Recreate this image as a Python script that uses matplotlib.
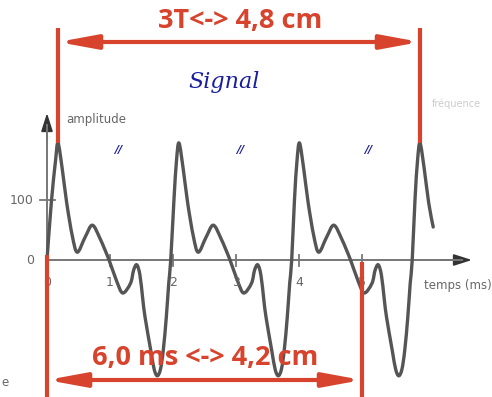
import matplotlib.pyplot as plt
from matplotlib.patches import FancyArrowPatch, PathPatch
from matplotlib.path import Path

# one period of the signal: offset from the big peak (ms), amplitude
shape_off = [-0.08, -0.04, 0.0, 0.068, 0.138, 0.227, 0.306, 0.43, 0.545, 0.67,
             0.81, 0.93, 1.027, 1.15, 1.20, 1.25, 1.30, 1.345, 1.381, 1.471,
             1.526, 1.576, 1.626, 1.671, 1.719, 1.757, 1.789]
shape_amp = [100, 165, 195, 151, 95, 40, 13, 38, 58, 35,
             0, -35, -55, -39, -17, -8, -25, -65, -95, -150,
             -182, -193, -182, -150, -95, -39, 0]
peak_times = [0.175, 2.095, 4.008, 5.921]
start_t, start_amp = [0.0, 0.068], [0, 95]
end_t, end_amp = 6.13, 55

x_ticks = [1, 2, 3, 4, 5]
x_labels = ["0", "1", "2", "3", "4", "5"]
y_ticks = [0, 100]

RED = "#d7432d"
GRAY = "#777777"
INK = "#1a1f9c"


# pixel helpers: t=0 at px 47, 63 px per ms ; amp 0 at px 260, 0.6 px per unit
def tx(px):
    return (px - 47) / 63.0


def ay(py):
    return (260 - py) / 0.6


def smooth_path(xs, ys):
    # catmull-rom through the read points, drawn as cubic bezier segments
    pts = list(zip(xs, ys))
    verts = [pts[0]]
    codes = [Path.MOVETO]
    n = len(pts)
    for i in range(n - 1):
        p0 = pts[max(i - 1, 0)]
        p1 = pts[i]
        p2 = pts[i + 1]
        p3 = pts[min(i + 2, n - 1)]
        c1 = (p1[0] + (p2[0] - p0[0]) / 6, p1[1] + (p2[1] - p0[1]) / 6)
        c2 = (p2[0] - (p3[0] - p1[0]) / 6, p2[1] - (p3[1] - p1[1]) / 6)
        verts += [c1, c2, p2]
        codes += [Path.CURVE4] * 3
    return Path(verts, codes)


fig = plt.figure(figsize=(4.92, 3.97), dpi=100)
ax = fig.add_axes([0, 0, 1, 1])
ax.set_xlim(tx(0), tx(492))
ax.set_ylim(ay(397), ay(0))
ax.axis("off")

# signal
ts, amps = list(start_t), list(start_amp)
for p in peak_times:
    for off, a in zip(shape_off, shape_amp):
        t = p + off
        if ts[-1] + 0.03 < t < end_t - 0.02:
            ts.append(t)
            amps.append(a)
ts.append(end_t)
amps.append(end_amp)
ax.add_patch(PathPatch(smooth_path(ts, amps), facecolor="none", edgecolor="#555555",
                       lw=2.4, capstyle="round", joinstyle="round", zorder=3))

# axes with arrows
arrow_kw = dict(arrowstyle="-|>,head_length=1.1,head_width=0.35",
                color="#333333", lw=1.3, shrinkA=0, shrinkB=0)
ax.annotate("", xy=(tx(472), 0), xytext=(tx(440), 0), arrowprops=arrow_kw, zorder=2)
ax.annotate("", xy=(0, ay(113)), xytext=(0, ay(140)), arrowprops=arrow_kw, zorder=2)
ax.plot([0, tx(462)], [0, 0], color=GRAY, lw=1.4, zorder=2)
ax.plot([0, 0], [0, ay(125)], color=GRAY, lw=1.4, zorder=2)

for xt in x_ticks:
    ax.plot([xt, xt], [ay(255), ay(266)], color=GRAY, lw=1.3, zorder=2)
ax.plot([tx(40), tx(55)], [100, 100], color=GRAY, lw=1.3, zorder=2)

for i, lab in enumerate(x_labels):
    ax.text(i, ay(283), lab, ha="center", va="center", color="#666666", fontsize=9)
for yt in y_ticks:
    ax.text(tx(34), yt, str(yt), ha="right", va="center", color="#666666", fontsize=9)
ax.text(tx(66), ay(120), "amplitude", ha="left", va="center", color="#666666", fontsize=8.5)
ax.text(tx(424), ay(285), "temps (ms)", ha="left", va="center", color="#666666", fontsize=8.5)
ax.text(tx(1), ay(383), "e", ha="left", va="center", color="#666666", fontsize=8.5)
ax.text(tx(432), ay(104), "fréquence", ha="left", va="center", color="#aaaaaa",
        fontsize=7, alpha=0.6)

# handwriting
ax.text(tx(224), ay(82), "Signal", ha="center", va="center", color=INK,
        fontsize=16, style="italic", family="DejaVu Serif")
for px in [118, 240, 368]:
    ax.text(tx(px), ay(150), "//", ha="center", va="center", color=INK,
            fontsize=8, style="italic", fontweight="bold")

# red annotations
red_lines = [(58, 28, 143), (420, 28, 143), (47, 255, 397), (362, 262, 397)]
for px, y0, y1 in red_lines:
    ax.plot([tx(px), tx(px)], [ay(y0), ay(y1)], color=RED, lw=3, zorder=5,
            solid_capstyle="butt")

for x0, x1, py in [(58, 420, 42), (47, 362, 380)]:
    arr = FancyArrowPatch((tx(x0), ay(py)), (tx(x1), ay(py)),
                          arrowstyle="<|-|>,head_length=1.9,head_width=0.35",
                          mutation_scale=12, color=RED, lw=3, shrinkA=0, shrinkB=0,
                          zorder=6)
    ax.add_patch(arr)

ax.text(tx(240), ay(21), "3T<-> 4,8 cm", ha="center", va="center", color=RED,
        fontsize=19.5, fontweight="bold", family="Open Sans", zorder=7)
ax.text(tx(205), ay(358), "6,0 ms <-> 4,2 cm", ha="center", va="center", color=RED,
        fontsize=19.5, fontweight="bold", family="Open Sans", zorder=7)

fig.savefig("out.png", dpi=100)
